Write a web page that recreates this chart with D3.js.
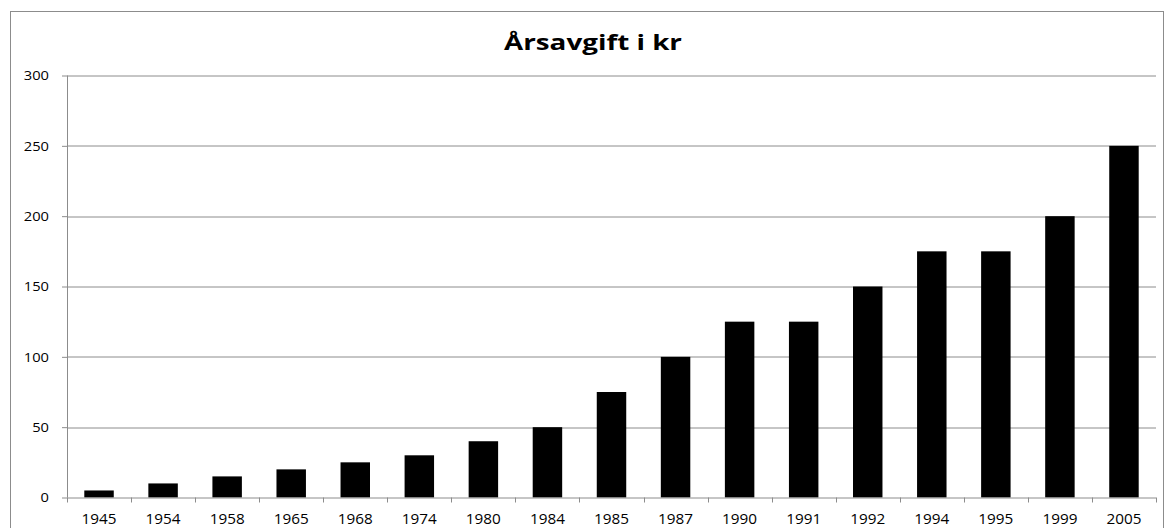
<!DOCTYPE html>
<html>
<head>
<meta charset="utf-8">
<script src="https://cdn.jsdelivr.net/npm/d3@7"></script>
<style>
  body { margin: 0; background: #fff; }
  text { font-family: "Open Sans", "Noto Sans", sans-serif; fill: #000; }
</style>
</head>
<body>
<div id="chart"></div>
<script>
// data
var years = ["1945", "1954", "1958", "1965", "1968", "1974", "1980", "1984", "1985",
  "1987", "1990", "1991", "1992", "1994", "1995", "1999", "2005"];
var fees = [5, 10, 15, 20, 25, 30, 40, 50, 75, 100, 125, 125, 150, 175, 175, 200, 250];
var yTicks = [0, 50, 100, 150, 200, 250, 300];
var title = "Årsavgift i kr";

var svgWidth = 1165;
var svgHeight = 528;

var margin = { top: 75.5, right: 9, bottom: 30.5, left: 67 };
var width = svgWidth - margin.left - margin.right;
var height = svgHeight - margin.top - margin.bottom;

var svg = d3.select("#chart")
  .append("svg")
  .attr("width", svgWidth)
  .attr("height", svgHeight);

// outer chart frame
svg.append("rect")
  .attr("x", 10.5)
  .attr("y", 11.5)
  .attr("width", 1153)
  .attr("height", 530)
  .attr("fill", "none")
  .attr("stroke", "#8c8c8c");

// the original is stretched a bit sideways, hence textLength
svg.append("text")
  .attr("x", 593)
  .attr("y", 50)
  .attr("text-anchor", "middle")
  .attr("textLength", 178)
  .attr("lengthAdjust", "spacingAndGlyphs")
  .style("font-size", "22px")
  .style("font-weight", "bold")
  .text(title);

var chartGroup = svg.append("g")
  .attr("transform", `translate(${margin.left}, ${margin.top})`);

var x = d3.scaleBand()
  .domain(years)
  .range([0, width])
  .paddingInner(0.54)
  .paddingOuter(0.27);

var y = d3.scaleLinear()
  .domain([0, 300])
  .range([height, 0]);

// gridlines
chartGroup.selectAll(".grid")
  .data(yTicks.slice(1))
  .enter()
  .append("line")
  .attr("x1", 0)
  .attr("x2", width)
  .attr("y1", d => Math.round(y(d)) + 0.5)
  .attr("y2", d => Math.round(y(d)) + 0.5)
  .attr("stroke", "#8c8c8c")
  .attr("stroke-width", 1);

// y axis
var leftAxis = d3.axisLeft(y)
  .tickValues(yTicks)
  .tickSize(5)
  .tickPadding(13);

var yAxis = chartGroup.append("g").call(leftAxis);
yAxis.select(".domain").attr("stroke", "#8c8c8c").attr("d", `M0.5,0V${height}`);
yAxis.selectAll(".tick line").attr("stroke", "#8c8c8c");
yAxis.selectAll("text")
  .attr("textLength", d => String(d).length * 8.4)
  .attr("lengthAdjust", "spacingAndGlyphs")
  .style("font-size", "13.5px")
  .style("font-family", "'Open Sans', sans-serif");

// bars
chartGroup.selectAll(".bar")
  .data(fees)
  .enter()
  .append("rect")
  .attr("x", (d, i) => x(years[i]))
  .attr("y", d => y(d))
  .attr("width", x.bandwidth())
  .attr("height", d => height - y(d))
  .attr("fill", "#000");

// x axis: ticks at category boundaries
var xAxis = chartGroup.append("g")
  .attr("transform", `translate(0, ${height})`);

xAxis.append("line")
  .attr("x1", 0)
  .attr("x2", width)
  .attr("y1", 0.5)
  .attr("y2", 0.5)
  .attr("stroke", "#8c8c8c");

var step = x.step();
xAxis.selectAll(".xtick")
  .data(d3.range(years.length + 1))
  .enter()
  .append("line")
  .attr("x1", i => Math.round(i * step) + 0.5)
  .attr("x2", i => Math.round(i * step) + 0.5)
  .attr("y1", 0)
  .attr("y2", 5)
  .attr("stroke", "#8c8c8c");

xAxis.selectAll(".xlabel")
  .data(years)
  .enter()
  .append("text")
  .attr("x", d => x(d) + x.bandwidth() / 2)
  .attr("y", 26.5)
  .attr("text-anchor", "middle")
  .attr("textLength", 35)
  .attr("lengthAdjust", "spacingAndGlyphs")
  .style("font-size", "14px")
  .text(d => d);
</script>
</body>
</html>
